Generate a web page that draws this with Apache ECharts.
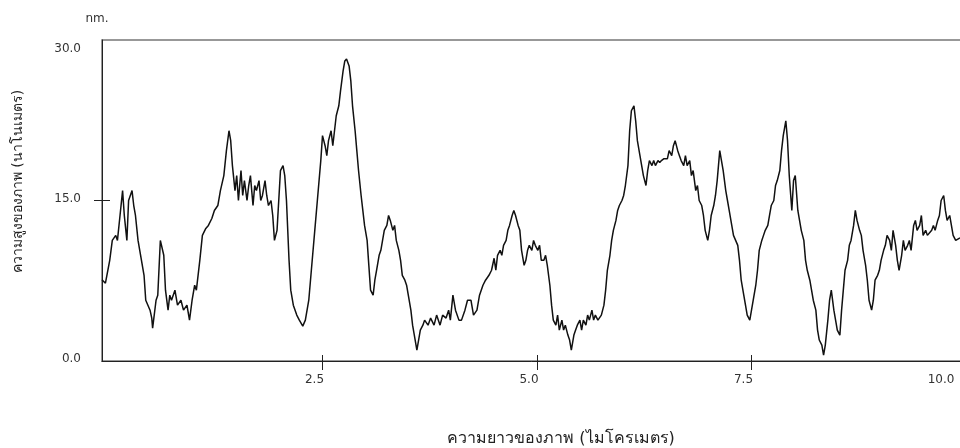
<!DOCTYPE html>
<html>
<head>
<meta charset="utf-8">
<script src="https://cdn.jsdelivr.net/npm/echarts@6/dist/echarts.min.js"></script>
<style>html,body{margin:0;padding:0;background:#fff;}#c{width:960px;height:448px;}</style>
</head>
<body>
<div id="c"></div>
<script>
// Profile positions (micrometres)
const positions = [-0.07,-0.06,-0.03,0.02,0.05,0.09,0.11,0.14,0.17,0.19,0.22,0.24,0.28,0.30,0.32,0.35,0.38,0.42,0.44,0.46,0.49,0.51,0.52,0.56,0.58,0.61,0.65,0.67,0.70,0.72,0.74,0.78,0.81,0.85,0.88,0.92,0.95,0.98,1.01,1.03,1.07,1.10,1.14,1.17,1.21,1.24,1.28,1.31,1.35,1.38,1.41,
1.43,1.45,1.48,1.50,1.52,1.55,1.57,1.59,1.62,1.64,1.66,1.69,1.71,1.73,1.76,1.78,1.80,1.83,1.85,1.87,1.90,1.92,1.94,1.97,1.99,2.01,2.04,2.06,2.08,2.11,2.13,2.16,2.20,2.23,2.27,2.30,2.34,2.37,2.41,2.44,2.48,2.50,2.53,2.55,2.57,2.60,2.62,2.64,2.66,2.69,2.71,2.74,2.76,2.78,2.81,2.83,2.85,2.88,2.90,2.92,2.95,2.97,2.99,3.02,3.04,3.06,3.09,3.11,3.13,3.16,3.18,3.20,3.22,3.25,3.27,3.29,3.32,3.34,3.36,3.39,3.41,3.43,3.46,3.48,3.50,3.53,3.55,3.57,3.60,3.62,3.64,3.67,3.69,3.73,3.76,3.80,3.83,3.87,3.90,3.94,3.97,3.99,4.02,4.05,4.09,4.12,4.16,4.19,4.23,4.26,4.30,4.33,4.37,4.40,4.44,4.47,4.50,4.52,4.54,4.57,4.59,4.61,4.64,4.66,4.68,4.71,4.73,4.75,4.78,4.80,4.82,4.85,4.87,4.89,4.91,4.94,4.96,4.98,5.01,5.03,5.05,5.08,5.10,5.12,5.15,5.17,5.19,5.22,5.24,5.26,5.29,5.31,5.33,5.36,5.38,5.40,5.43,5.45,5.47,5.50,5.52,5.54,5.57,5.59,5.61,5.64,5.66,5.68,5.71,5.73,5.75,5.78,5.80,5.82,5.85,5.87,5.89,5.92,5.94,5.96,5.99,6.01,6.03,6.06,6.08,6.10,6.13,6.15,6.17,6.20,6.22,6.24,6.27,6.29,6.31,6.34,6.36,6.38,6.41,6.43,6.45,6.48,6.50,6.52,6.54,6.57,6.59,6.61,6.64,6.66,6.68,6.71,6.73,6.75,6.78,6.80,6.82,6.85,6.87,6.89,6.92,6.94,6.96,6.99,7.01,7.03,7.06,7.08,7.10,7.13,7.15,7.17,7.20,7.22,7.24,7.27,7.29,7.31,7.34,7.36,7.38,7.41,7.43,7.45,7.48,7.50,7.52,7.55,7.57,7.59,7.62,7.64,7.66,7.69,7.71,7.73,7.76,7.78,7.80,7.83,7.85,7.87,7.90,7.92,7.94,7.97,7.99,8.01,8.04,8.06,8.08,8.11,8.13,8.15,8.18,8.20,8.22,8.25,8.27,8.29,8.32,8.34,8.36,8.39,8.41,8.43,8.46,8.48,8.50,8.53,8.55,8.57,8.59,8.62,8.64,8.66,8.69,8.71,8.73,8.76,8.78,8.80,8.83,8.85,8.87,8.90,8.92,8.94,8.97,8.99,9.01,9.04,9.06,9.08,9.11,9.13,9.15,9.18,9.20,9.22,9.25,9.27,9.29,9.32,9.34,9.36,9.39,9.41,9.43,9.46,9.48,9.50,9.53,9.55,9.57,9.60,9.62,9.64,9.67,9.69,9.71,9.74,9.76,9.78,9.81,9.83,9.85,9.88,9.90,9.92,9.96,10.0];
// Heights (nanometres)
const heights = [7.6,7.55,7.27,9.41,11.27,11.74,11.27,13.60,15.93,13.60,11.27,15.00,15.93,14.53,13.60,11.27,9.88,8.01,5.68,5.68,4.75,4.01,3.07,5.68,6.15,11.27,9.88,6.62,4.75,6.15,5.68,6.62,5.22,5.68,4.75,5.22,3.82,5.68,7.08,6.62,9.41,11.74,12.39,12.67,13.32,14.07,14.53,15.93,17.33,19.66,21.52,
20.59,18.26,15.93,17.33,15.00,17.80,15.47,16.86,15.00,16.40,17.33,14.53,16.40,15.93,16.86,15.00,15.47,16.86,15.47,14.53,15.00,13.60,11.27,12.21,15.00,17.80,18.26,17.33,15.00,9.41,6.62,5.22,4.29,3.82,3.26,3.82,5.68,8.48,12.21,15.00,18.73,21.06,20.12,19.19,20.59,21.52,20.12,21.52,22.92,23.85,25.25,27.11,28.04,28.23,27.58,26.18,23.85,21.52,19.66,17.80,15.47,14.07,12.67,11.27,8.94,6.62,6.15,7.55,8.48,9.88,10.34,11.27,12.21,12.67,13.60,13.14,12.21,12.67,11.27,10.34,9.41,8.01,7.55,7.08,6.15,4.75,3.35,2.42,1.02,1.96,2.89,3.35,3.82,3.35,4.01,3.35,4.29,3.35,4.29,4.01,4.75,3.82,6.15,4.75,3.82,3.82,4.75,5.68,5.68,4.29,4.75,6.15,7.08,7.55,8.01,8.48,9.60,8.48,9.88,10.34,9.88,10.81,11.27,12.21,12.67,13.60,14.07,13.60,12.67,12.21,10.34,8.94,9.41,10.34,10.81,10.34,11.27,10.81,10.34,10.81,9.41,9.41,9.88,8.94,7.08,5.22,3.82,3.35,4.29,2.89,3.82,2.89,3.35,2.42,1.96,1.02,2.42,2.89,3.35,3.82,2.89,3.82,3.35,4.29,3.82,4.75,3.82,4.29,3.82,3.82,4.29,5.22,6.62,8.48,9.88,11.27,12.21,13.14,14.07,14.53,15.00,15.47,16.40,18.26,21.52,23.39,23.85,22.45,20.59,19.19,18.26,17.33,16.40,17.80,18.73,18.26,18.73,18.26,18.73,18.54,18.73,18.91,18.73,18.91,19.66,19.19,20.12,20.59,19.66,19.19,18.73,18.26,19.19,18.26,18.73,17.33,17.80,15.93,16.40,15.00,14.53,13.60,12.21,11.27,12.21,13.60,14.53,15.47,16.86,19.66,18.73,17.80,15.93,15.00,14.07,12.67,11.74,11.74,10.81,9.41,7.55,6.15,5.22,4.29,3.82,4.75,5.68,7.08,8.48,10.34,11.27,11.74,12.21,12.67,13.60,14.53,15.00,16.40,16.86,17.80,19.66,21.06,22.45,20.59,17.33,14.07,16.86,17.33,14.07,13.14,12.21,11.27,9.41,8.48,7.55,6.62,5.68,4.75,2.89,1.96,1.49,0.56,1.49,3.82,5.68,6.62,4.75,3.82,2.89,2.42,4.75,6.62,8.48,9.41,10.81,11.27,12.67,14.07,13.14,12.21,11.74,10.34,8.94,7.55,5.68,4.75,5.68,7.55,8.01,8.48,9.41,10.34,10.81,11.74,11.27,10.34,12.21,10.81,9.41,8.48,9.88,11.27,10.34,10.81,11.27,10.34,12.67,13.14,12.21,12.67,13.60,11.74,12.21,11.74,11.74,12.21,12.67,12.21,13.14,13.60,15.00,15.47,14.07,13.14,13.60,12.67,11.74,11.27,11.27,11.46,11.6,11.8];
const xTicks = [2.5, 5.0, 7.5, 10.0];
const yTicks = [0, 15, 30];
const xTitle = 'ความยาวของภาพ (ไมโครเมตร)';
const yTitle = 'ความสูงของภาพ (นาโนเมตร)';
const yUnit = 'nm.';

const FONT = 'Tahoma, "DejaVu Sans", "Noto Sans", sans-serif';
const data = positions.map((p, i) => [p, heights[i]]);
const chart = echarts.init(document.getElementById('c'), null, {renderer: 'canvas'});
const lab = {fontSize: 12, color: '#333', fontFamily: FONT};
chart.setOption({
  animation: false,
  backgroundColor: '#fff',
  grid: {left: 102, top: 40, width: 864, height: 321, show: true, borderColor: '#777', borderWidth: 1.5,
         outerBoundsMode: 'none', containLabel: false},
  xAxis: [{
    type: 'value', min: -0.07, max: 10, position: 'bottom',
    axisLine: {show: true, onZero: false, lineStyle: {color: '#222', width: 1}},
    axisTick: {show: true, customValues: xTicks, length: 9, lineStyle: {color: '#222'}},
    axisLabel: {customValues: xTicks, margin: 13,
      formatter: v => (v === 10 ? '{e|' : '{n|') + v.toFixed(1) + '}',
      rich: {n: Object.assign({padding: [0, 16, 0, 0]}, lab), e: Object.assign({padding: [0, 50, 0, 0]}, lab)}},
    splitLine: {show: false},
    name: xTitle, nameLocation: 'middle', nameGap: 70,
    nameTextStyle: {fontSize: 16, color: '#222', fontFamily: FONT, padding: [0, 0, 0, 54]}
  }, {
    type: 'value', min: -0.07, max: 10, position: 'bottom',
    axisLine: {show: false, onZero: false},
    axisTick: {show: true, inside: true, customValues: xTicks, length: 6, lineStyle: {color: '#222'}},
    axisLabel: {show: false}, splitLine: {show: false}
  }],
  yAxis: [{
    type: 'value', min: 0, max: 30, interval: 15, position: 'left',
    axisLine: {show: true, onZero: false, lineStyle: {color: '#222', width: 1}},
    axisTick: {show: true, customValues: [15], length: 8, lineStyle: {color: '#222'}},
    axisLabel: {customValues: yTicks, margin: 21,
      formatter: v => (v === 30 ? '{t|' : '{n|') + v.toFixed(1) + '}',
      rich: {n: Object.assign({padding: [0, 0, 4, 0]}, lab), t: Object.assign({padding: [18, 0, 0, 0]}, lab)}},
    splitLine: {show: false},
    name: yUnit, nameLocation: 'end', nameGap: 15,
    nameTextStyle: {fontSize: 12, color: '#333', fontFamily: FONT, padding: [0, 10, 0, 0]}
  }, {
    type: 'value', min: 0, max: 30, interval: 15, position: 'left',
    axisLine: {show: false, onZero: false},
    axisTick: {show: true, inside: true, customValues: [15], length: 8, lineStyle: {color: '#222'}},
    axisLabel: {show: false}, splitLine: {show: false},
    name: yTitle, nameLocation: 'middle', nameGap: 77,
    nameTextStyle: {fontSize: 14, color: '#222', fontFamily: FONT, padding: [0, 0, 0, 38]}
  }],
  series: [{
    type: 'line', data: data, xAxisIndex: 0, yAxisIndex: 0,
    showSymbol: false, symbol: 'none', smooth: false, clip: true,
    lineStyle: {color: '#111', width: 1.5}
  }]
});
</script>
</body>
</html>
